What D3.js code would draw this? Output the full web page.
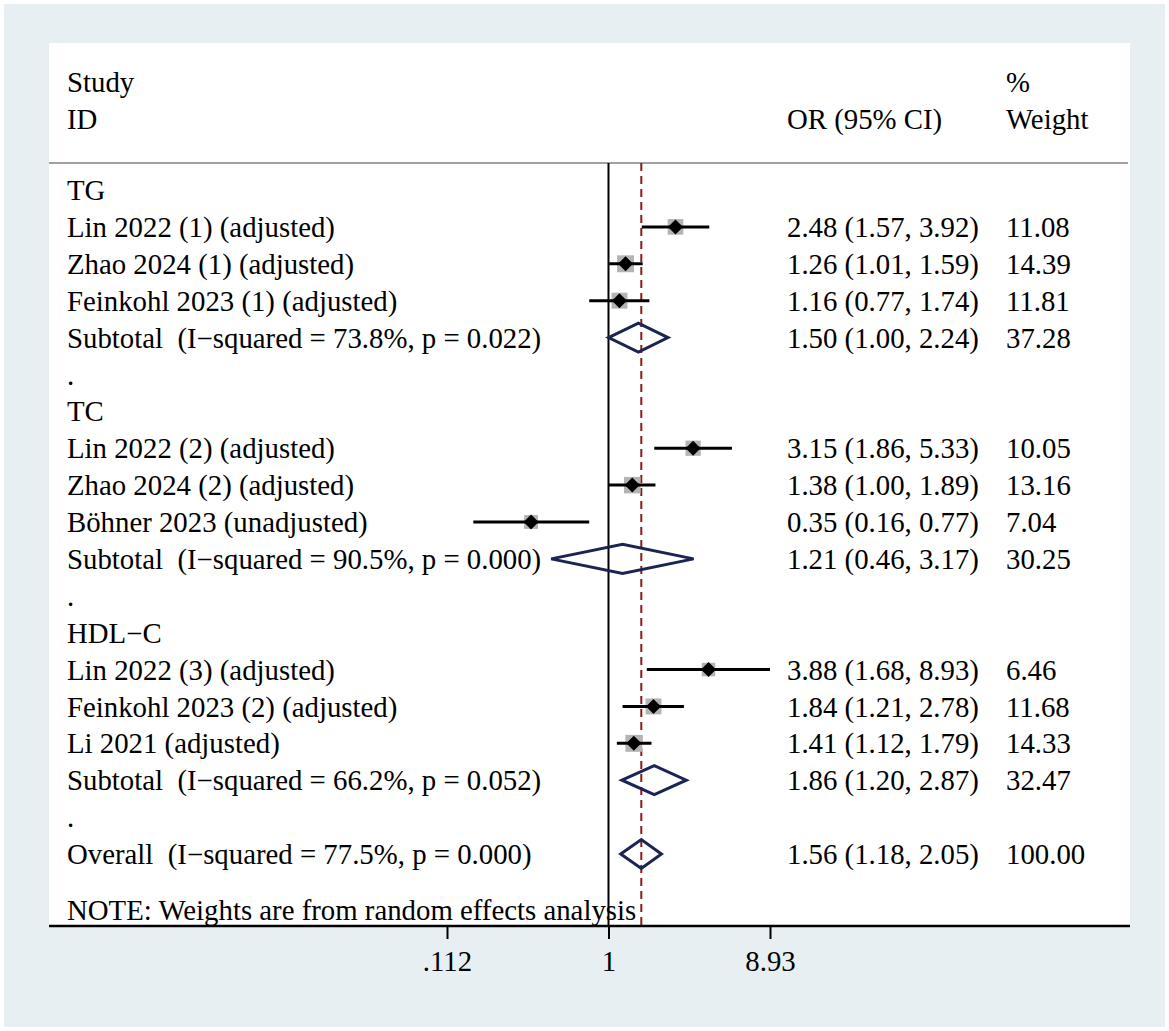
<!DOCTYPE html>
<html>
<head>
<meta charset="utf-8">
<script src="https://cdn.jsdelivr.net/npm/d3@7"></script>
<style>
  body { margin: 0; background: #fff; }
  svg text { font-family: "Liberation Serif", "Times New Roman", serif; font-size: 28.8px; fill: #000; white-space: pre; }
</style>
</head>
<body>
<svg id="chart" width="1169" height="1031"></svg>
<script>
// rows, top to bottom (type: h = group head, s = study, t = subtotal, b = blank, o = overall)
var labels = ["TG", "Lin 2022 (1) (adjusted)", "Zhao 2024 (1) (adjusted)", "Feinkohl 2023 (1) (adjusted)",
  "Subtotal  (I\u2212squared = 73.8%, p = 0.022)", ".",
  "TC", "Lin 2022 (2) (adjusted)", "Zhao 2024 (2) (adjusted)", "Böhner 2023 (unadjusted)",
  "Subtotal  (I\u2212squared = 90.5%, p = 0.000)", ".",
  "HDL\u2212C", "Lin 2022 (3) (adjusted)", "Feinkohl 2023 (2) (adjusted)", "Li 2021 (adjusted)",
  "Subtotal  (I\u2212squared = 66.2%, p = 0.052)", ".",
  "Overall  (I\u2212squared = 77.5%, p = 0.000)"];
var types = ["h","s","s","s","t","b","h","s","s","s","t","b","h","s","s","s","t","b","o"];
var or   = [null,2.48,1.26,1.16,1.50,null,null,3.15,1.38,0.35,1.21,null,null,3.88,1.84,1.41,1.86,null,1.56];
var lo   = [null,1.57,1.01,0.77,1.00,null,null,1.86,1.00,0.16,0.46,null,null,1.68,1.21,1.12,1.20,null,1.18];
var hi   = [null,3.92,1.59,1.74,2.24,null,null,5.33,1.89,0.77,3.17,null,null,8.93,2.78,1.79,2.87,null,2.05];
var weight = [null,11.08,14.39,11.81,37.28,null,null,10.05,13.16,7.04,30.25,null,null,6.46,11.68,14.33,32.47,null,100.00];
var tickVals = [0.112, 1, 8.93];
var tickLabels = [".112", "1", "8.93"];
var overallOR = 1.56;

var svg = d3.select("#chart");

// background and plot panel
svg.append("rect").attr("x", 4).attr("y", 4).attr("width", 1161).attr("height", 1023).attr("fill", "#e8eff3");
svg.append("rect").attr("x", 49).attr("y", 43).attr("width", 1081).attr("height", 883).attr("fill", "#fff");

var x = d3.scaleLog().domain([0.112, 8.93]).range([447, 770]);
var y = d3.scaleLinear().domain([0, 18]).range([190, 854]);
var box = d3.scaleLinear().domain([0, 4]).range([6.5, 17.5]); // box side from sqrt(weight)

var leftX = 67, orX = 787, wX = 1006;
var topY = 163, axisY = 926;

// header
svg.append("text").attr("x", leftX).attr("y", 82).attr("dy", "0.35em").text("Study");
svg.append("text").attr("x", leftX).attr("y", 119).attr("dy", "0.35em").text("ID");
svg.append("text").attr("x", orX).attr("y", 119).attr("dy", "0.35em").text("OR (95% CI)");
svg.append("text").attr("x", wX).attr("y", 82).attr("dy", "0.35em").text("%");
svg.append("text").attr("x", wX).attr("y", 119).attr("dy", "0.35em").text("Weight");
svg.append("line").attr("x1", 49).attr("x2", 1128).attr("y1", topY).attr("y2", topY)
  .attr("stroke", "#a0a0a0").attr("stroke-width", 2);

// reference lines
svg.append("line").attr("x1", x(1)).attr("x2", x(1)).attr("y1", topY).attr("y2", axisY)
  .attr("stroke", "#000").attr("stroke-width", 2);
svg.append("line").attr("x1", x(overallOR)).attr("x2", x(overallOR)).attr("y1", topY).attr("y2", axisY)
  .attr("stroke", "#8b1a1a").attr("stroke-width", 2).attr("stroke-dasharray", "8,5");

var rows = labels.map(function(d, i) {
  return {label: d, type: types[i], or: or[i], lo: lo[i], hi: hi[i], w: weight[i], i: i};
});

// row labels
svg.selectAll(".lab").data(rows).enter().append("text")
  .attr("class", "lab")
  .attr("x", leftX)
  .attr("y", function(d) { return y(d.i); })
  .attr("dy", "0.35em")
  .text(function(d) { return d.label; });

var est = rows.filter(function(d) { return d.or != null; });

svg.selectAll(".ci").data(est).enter().append("text")
  .attr("class", "ci")
  .attr("x", orX)
  .attr("y", function(d) { return y(d.i); })
  .attr("dy", "0.35em")
  .text(function(d) { return d.or.toFixed(2) + " (" + d.lo.toFixed(2) + ", " + d.hi.toFixed(2) + ")"; });

svg.selectAll(".wt").data(est).enter().append("text")
  .attr("class", "wt")
  .attr("x", wX)
  .attr("y", function(d) { return y(d.i); })
  .attr("dy", "0.35em")
  .text(function(d) { return d.w.toFixed(2); });

// studies
var studies = est.filter(function(d) { return d.type === "s"; });
svg.selectAll(".box").data(studies).enter().append("rect")
  .attr("class", "box")
  .attr("x", function(d) { return x(d.or) - box(Math.sqrt(d.w)) / 2; })
  .attr("y", function(d) { return y(d.i) - box(Math.sqrt(d.w)) / 2; })
  .attr("width", function(d) { return box(Math.sqrt(d.w)); })
  .attr("height", function(d) { return box(Math.sqrt(d.w)); })
  .attr("fill", "#b4b4b4");
svg.selectAll(".ciline").data(studies).enter().append("line")
  .attr("class", "ciline")
  .attr("x1", function(d) { return x(d.lo); })
  .attr("x2", function(d) { return x(d.hi); })
  .attr("y1", function(d) { return y(d.i); })
  .attr("y2", function(d) { return y(d.i); })
  .attr("stroke", "#000").attr("stroke-width", 3);
svg.selectAll(".pt").data(studies).enter().append("path")
  .attr("class", "pt")
  .attr("d", function(d) {
    var cx = x(d.or), cy = y(d.i), r = 7.5;
    return "M" + (cx - r) + "," + cy + "L" + cx + "," + (cy - r) + "L" + (cx + r) + "," + cy + "L" + cx + "," + (cy + r) + "Z";
  })
  .attr("fill", "#000");

// pooled diamonds
var pooled = est.filter(function(d) { return d.type === "t" || d.type === "o"; });
svg.selectAll(".dia").data(pooled).enter().append("path")
  .attr("class", "dia")
  .attr("d", function(d) {
    var cy = y(d.i), h = 14.5;
    return "M" + x(d.lo) + "," + cy + "L" + x(d.or) + "," + (cy - h) + "L" + x(d.hi) + "," + cy + "L" + x(d.or) + "," + (cy + h) + "Z";
  })
  .attr("fill", "none").attr("stroke", "#1b2452").attr("stroke-width", 3);

// note
svg.append("text").attr("x", leftX).attr("y", 910).attr("dy", "0.35em")
  .text("NOTE: Weights are from random effects analysis");

// axis
var axis = d3.axisBottom(x)
  .tickValues(tickVals)
  .tickFormat(function(d, i) { return tickLabels[i]; })
  .tickSize(13)
  .tickPadding(12);
var g = svg.append("g").attr("transform", "translate(0," + axisY + ")").call(axis);
g.select(".domain").remove();
g.selectAll(".tick line").attr("stroke", "#000").attr("stroke-width", 2);
g.selectAll(".tick text").attr("font-family", "Liberation Serif").attr("font-size", 28.8).attr("fill", "#000");
svg.append("line").attr("x1", 49).attr("x2", 1130).attr("y1", axisY).attr("y2", axisY)
  .attr("stroke", "#000").attr("stroke-width", 2.5);
</script>
</body>
</html>
